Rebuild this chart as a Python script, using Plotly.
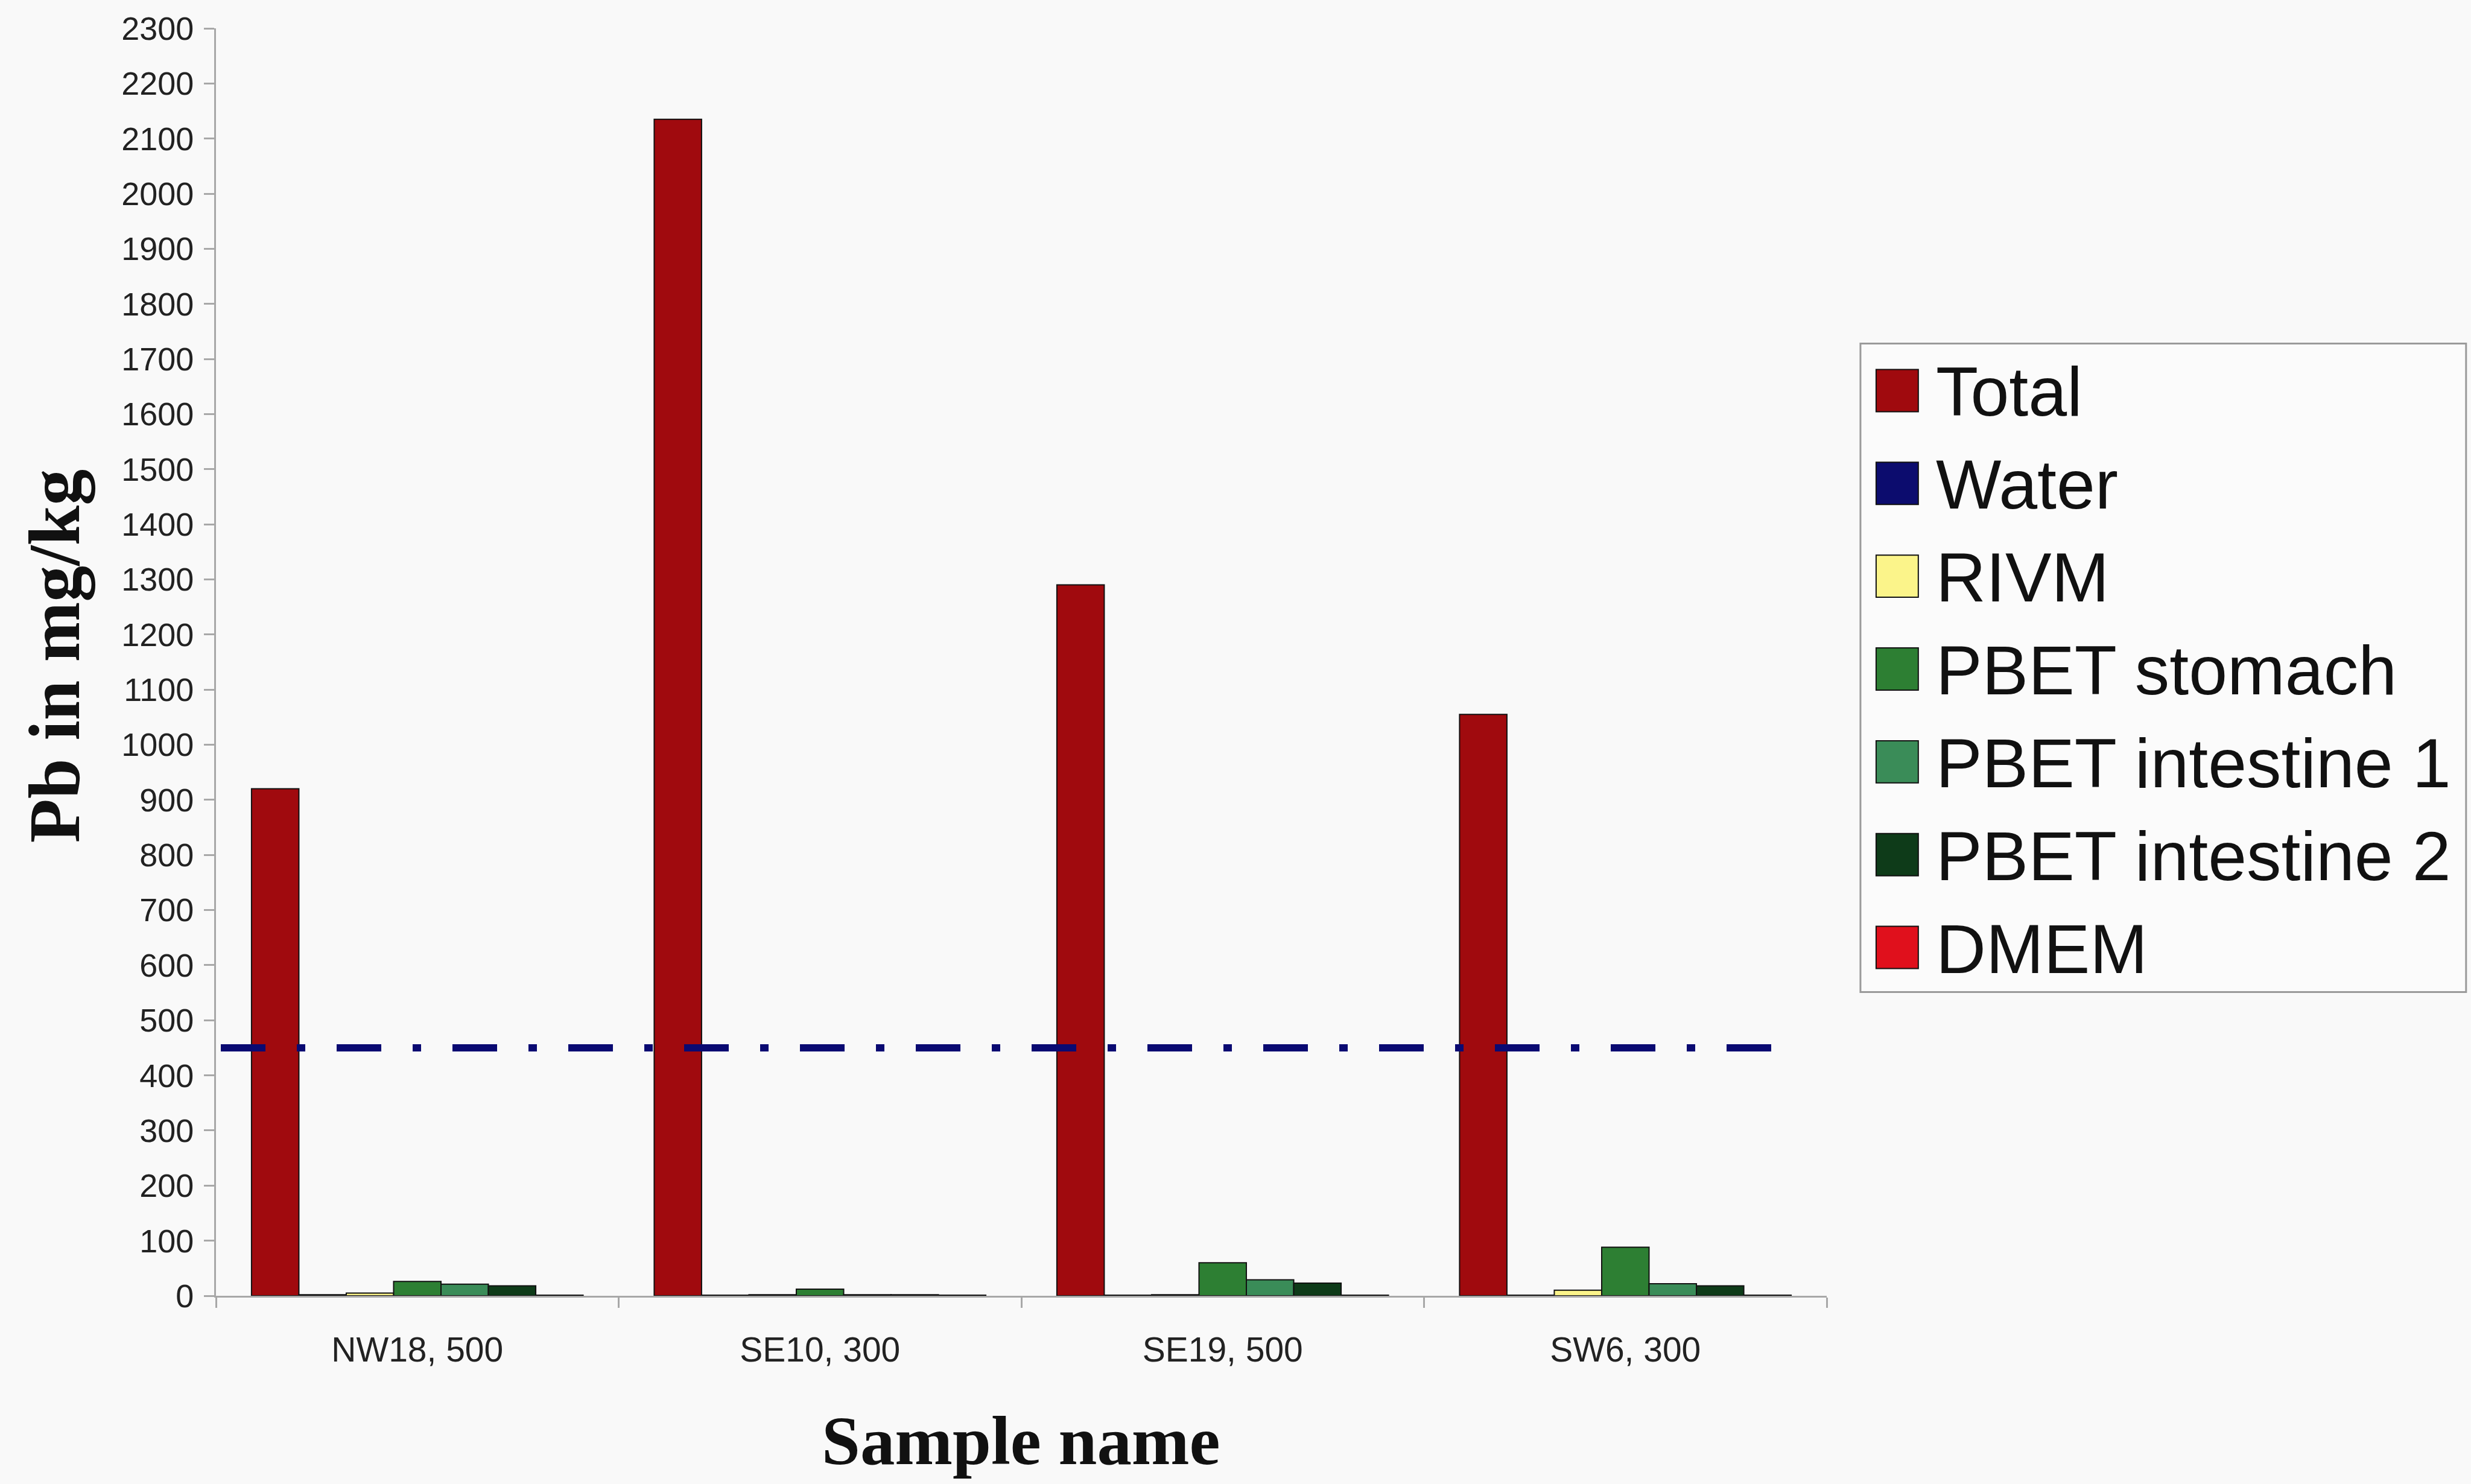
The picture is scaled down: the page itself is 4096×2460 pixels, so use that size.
import plotly.graph_objects as go

# Sample sites and Pb results (mg/kg) for each extraction method
samples = ["NW18, 500", "SE10, 300", "SE19, 500", "SW6, 300"]
total = [920, 2135, 1290, 1055]
water = [2, 1, 1, 1]
rivm = [5, 2, 2, 10]
pbet_stomach = [26, 12, 60, 88]
pbet_intestine_1 = [21, 2, 29, 22]
pbet_intestine_2 = [18, 2, 23, 18]
dmem = [1, 1, 1, 1]

series_names = ["Total", "Water", "RIVM", "PBET stomach",
                "PBET intestine 1", "PBET intestine 2", "DMEM"]
series_values = [total, water, rivm, pbet_stomach,
                 pbet_intestine_1, pbet_intestine_2, dmem]
series_colors = ["#A00A0E", "#0C0C6E", "#FBF48A", "#2D7F33",
                 "#3A8C58", "#0E3B19", "#E0101C"]

# Soil guideline value for lead
guideline = 450

W, H, S = 4096, 2460, 0.999
L, R, T, B = 358 * S, 3031 * S, 47 * S, 2150 * S


def px(x):
    return (x * S - L) / (R - L)


def py(y):
    return (B - y * S) / (B - T)


fig = go.Figure()
for name, vals, col in zip(series_names, series_values, series_colors):
    fig.add_trace(go.Bar(
        x=samples, y=vals, name=name, showlegend=False,
        marker=dict(color=col, line=dict(color="#111111", width=2)),
    ))

axis_col = "#A8A8A8"
fig.update_layout(
    width=W, height=H,
    margin=dict(l=L, r=W - R, t=T, b=H - B, pad=0),
    paper_bgcolor="#F9F9F9", plot_bgcolor="#F9F9F9",
    barmode="group", bargap=0.1765, bargroupgap=0,
    font=dict(family="Liberation Sans, Arial, sans-serif", color="#222222"),
    xaxis=dict(
        type="category", range=[-0.5, 3.5], tickson="boundaries",
        ticks="outside", ticklen=int(18 * S), tickwidth=3, tickcolor=axis_col,
        showline=True, linecolor=axis_col, linewidth=3, showgrid=False,
        tickfont=dict(size=57 * S), ticklabelstandoff=38, fixedrange=True,
    ),
    yaxis=dict(
        range=[0, 2300], dtick=100, tick0=0, ticks="outside",
        ticklen=int(18 * S), tickwidth=3, tickcolor=axis_col,
        showline=True, linecolor=axis_col, linewidth=3, showgrid=False,
        zeroline=False, tickfont=dict(size=54 * S), ticklabelstandoff=6,
        fixedrange=True,
    ),
)

# Guideline drawn as a dash-dot line across the clusters
fig.add_shape(
    type="line", xref="x", yref="y", x0=-0.488, x1=3.4375,
    y0=guideline, y1=guideline, layer="above",
    line=dict(color="#0A0A72", width=12 * S, dash="74px,52px,14px,52px"),
)

serif = "Liberation Serif, Times New Roman, serif"
fig.add_annotation(
    text="<b>Sample name</b>", xref="paper", yref="paper",
    x=px(1694), y=py(2391), showarrow=False,
    xanchor="center", yanchor="middle",
    font=dict(family=serif, size=115 * S, color="#111111"),
)
fig.add_annotation(
    text="<b>Pb in mg/kg</b>", xref="paper", yref="paper",
    x=px(91), y=py(1088), showarrow=False, textangle=-90,
    xanchor="center", yanchor="middle",
    font=dict(family=serif, size=120 * S, color="#111111"),
)

# Legend box with square swatches
fig.add_shape(
    type="rect", xref="paper", yref="paper",
    x0=px(3087), x1=px(4092), y0=py(1646), y1=py(570),
    line=dict(color="#9A9A9A", width=3), fillcolor="#FBFBFB", layer="below",
)
row0, row_step, sw = 648, 154, 70
for i, (name, col) in enumerate(zip(series_names, series_colors)):
    cy = row0 + i * row_step
    fig.add_shape(
        type="rect", xref="paper", yref="paper",
        x0=px(3113), x1=px(3113 + sw), y0=py(cy + sw / 2), y1=py(cy - sw / 2),
        line=dict(color="#111111", width=2), fillcolor=col,
    )
    fig.add_annotation(
        text=name, xref="paper", yref="paper", x=px(3210), y=py(cy + 2),
        showarrow=False, xanchor="left", yanchor="middle",
        font=dict(size=115 * S, color="#111111"),
    )

fig.write_html("out.html")
